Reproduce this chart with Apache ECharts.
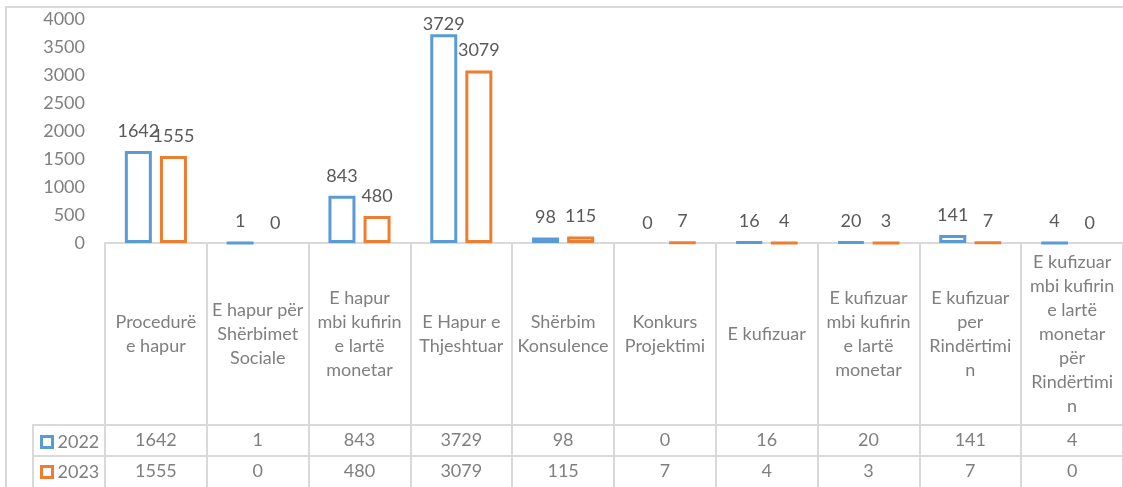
<!DOCTYPE html>
<html>
<head>
<meta charset="utf-8">
<script src="https://cdn.jsdelivr.net/npm/echarts@6/dist/echarts.min.js"></script>
<style>
  html, body { margin: 0; padding: 0; background: #fff; }
  #chart { width: 1123px; height: 487px; }
</style>
</head>
<body>
<div id="chart"></div>
<script>
// categories as they wrap in the table header
var categories = [
  'Procedurë\ne hapur',
  'E hapur për\nShërbimet\nSociale',
  'E hapur\nmbi kufirin\ne lartë\nmonetar',
  'E Hapur e\nThjeshtuar',
  'Shërbim\nKonsulence',
  'Konkurs\nProjektimi',
  'E kufizuar',
  'E kufizuar\nmbi kufirin\ne lartë\nmonetar',
  'E kufizuar\nper\nRindërtimi\nn',
  'E kufizuar\nmbi kufirin\ne lartë\nmonetar\npër\nRindërtimi\nn'
];
var years = ['2022', '2023'];
var values2022 = [1642, 1, 843, 3729, 98, 0, 16, 20, 141, 4];
var values2023 = [1555, 0, 480, 3079, 115, 7, 4, 3, 7, 0];
var yTicks = { min: 0, max: 4000, interval: 500 };

var blue = '#5B9BD5';
var orange = '#ED7D31';
var lineGray = '#d9d9d9';
var textGray = '#7f7f7f';
var font = 'Lato';

function barData(vals) {
  return vals.map(function (v) {
    // zero values draw nothing in the original
    if (v === 0) return { value: v, itemStyle: { borderWidth: 0 } };
    // labels near the top get squeezed against the plot edge
    if (v > 3500) return { value: v, label: { distance: 1 } };
    return v;
  });
}

function rowAxis(vals, offset) {
  return {
    type: 'category',
    data: categories,
    position: 'bottom',
    offset: offset,
    axisLine: { show: true, lineStyle: { color: lineGray, width: 2 } },
    axisTick: { show: true, length: 31, lineStyle: { color: lineGray, width: 2 } },
    axisLabel: {
      interval: 0,
      margin: 15,
      verticalAlign: 'middle',
      fontFamily: font,
      fontSize: 18,
      color: textGray,
      formatter: function (v, i) { return String(vals[i]); }
    }
  };
}

var chart = echarts.init(document.getElementById('chart'), null, { renderer: 'canvas' });

var option = {
  animation: false,
  grid: { left: 105, top: 19, right: -5, bottom: 244, containLabel: false },
  xAxis: [
    {
      type: 'category',
      data: categories,
      position: 'bottom',
      axisLine: { show: true, lineStyle: { color: lineGray, width: 2 } },
      axisTick: { show: true, length: 182, lineStyle: { color: lineGray, width: 2 } },
      axisLabel: {
        interval: 0,
        margin: 91,
        verticalAlign: 'middle',
        lineHeight: 24,
        fontFamily: font,
        fontSize: 18,
        color: textGray
      }
    },
    rowAxis(values2022, 182),
    rowAxis(values2023, 213)
  ],
  yAxis: {
    type: 'value',
    min: yTicks.min,
    max: yTicks.max,
    interval: yTicks.interval,
    axisLine: { show: false },
    axisTick: { show: false },
    splitLine: { show: false },
    axisLabel: {
      margin: 20, fontFamily: font, fontSize: 18, color: textGray,
      formatter: function (v) { return String(v); }
    }
  },
  legend: {
    data: [
      { name: years[0], itemStyle: { color: '#fff', borderColor: blue, borderWidth: 3 } },
      { name: years[1], itemStyle: { color: '#fff', borderColor: orange, borderWidth: 3 } }
    ],
    orient: 'vertical',
    left: 40,
    top: 433,
    padding: 0,
    icon: 'rect',
    itemWidth: 11,
    itemHeight: 11,
    itemGap: 12,
    textStyle: { fontFamily: font, fontSize: 18, color: textGray, lineHeight: 13, padding: [0, 0, 0, 0] }
  },
  series: [
    {
      name: years[0],
      type: 'bar',
      data: barData(values2022),
      barWidth: 27,
      barGap: '30%',
      itemStyle: { color: '#fff', borderColor: blue, borderWidth: 3 },
      label: { show: true, position: 'top', distance: 11, fontFamily: font, fontSize: 18, color: '#595959' }
    },
    {
      name: years[1],
      type: 'bar',
      data: barData(values2023),
      barWidth: 27,
      itemStyle: { color: '#fff', borderColor: orange, borderWidth: 3 },
      label: { show: true, position: 'top', distance: 11, fontFamily: font, fontSize: 18, color: '#595959' }
    }
  ],
  graphic: [
    // outer chart frame
    { type: 'rect', silent: true, z: -1, shape: { x: 6, y: 7, width: 1200, height: 600 },
      style: { fill: null, stroke: lineGray, lineWidth: 2 } },
    // legend column of the data table
    { type: 'line', silent: true, shape: { x1: 33, y1: 425, x2: 105, y2: 425 }, style: { stroke: lineGray, lineWidth: 2 } },
    { type: 'line', silent: true, shape: { x1: 33, y1: 456, x2: 105, y2: 456 }, style: { stroke: lineGray, lineWidth: 2 } },
    { type: 'line', silent: true, shape: { x1: 33, y1: 424, x2: 33, y2: 487 }, style: { stroke: lineGray, lineWidth: 2 } }
  ]
};

chart.setOption(option);
</script>
</body>
</html>
